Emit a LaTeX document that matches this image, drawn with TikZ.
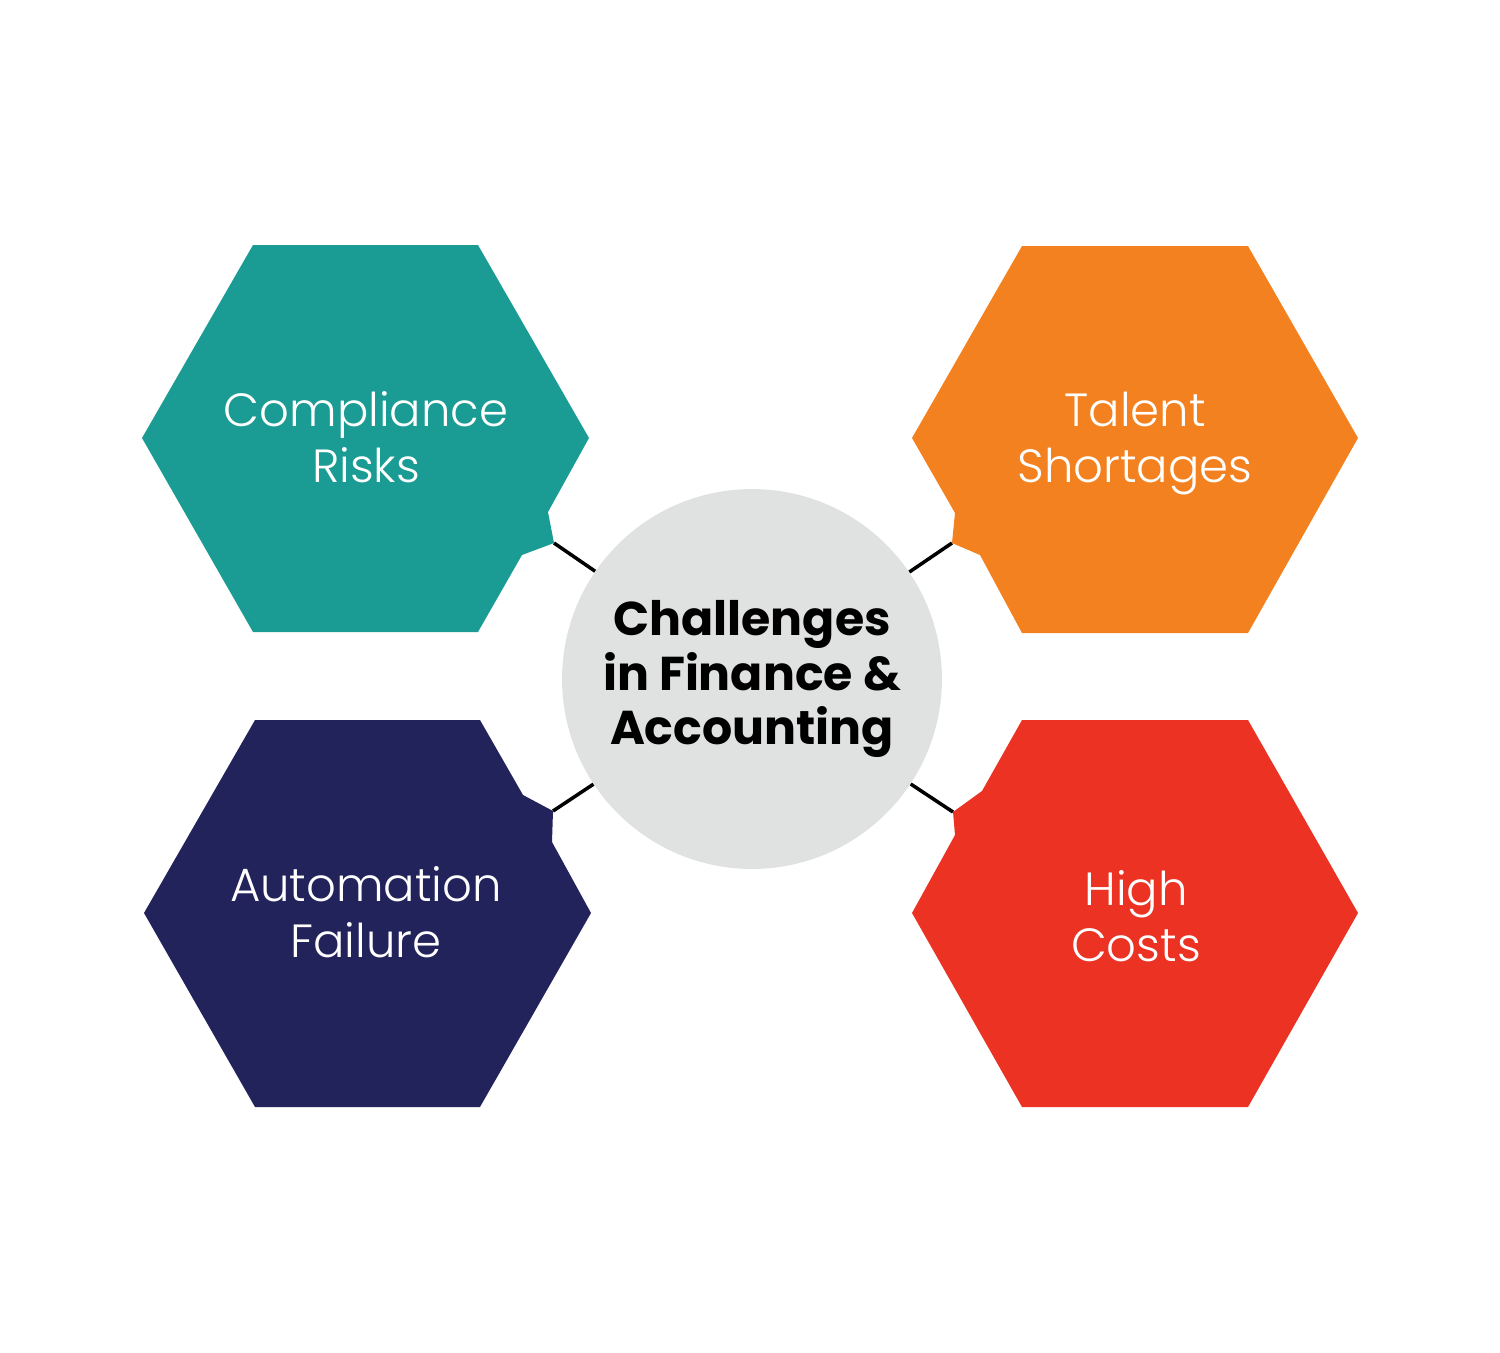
\documentclass[tikz,border=0pt]{standalone}
\usepackage{fontspec}
\setmainfont{Poppins}
\newfontfamily\lightfont{Poppins Light}
\definecolor{cteal}{HTML}{1A9C94}
\definecolor{corange}{HTML}{F48120}
\definecolor{cnavy}{HTML}{23235B}
\definecolor{cred}{HTML}{EB3223}
\definecolor{chub}{HTML}{E0E2E1}
\tikzstyle{hexlabel}=[text=white,align=center,inner sep=0pt,font=\lightfont\fontsize{26.5}{32}\selectfont]
\tikzstyle{hub}=[circle,fill=chub,minimum size=7.6cm,inner sep=0pt,align=center,font=\bfseries\fontsize{27}{31}\selectfont]
\tikzstyle{link}=[draw=black,line width=2pt]

\begin{document}
\begin{tikzpicture}[x=0.02cm, y=-0.02cm]
	\useasboundingbox (0,0) rectangle (1500,1352);
	% centre
	\node[hub] (hub) at (752,679) {Challenges\\in Finance \&\\Accounting};
	% hexagons
	\fill[cteal] (253,245) -- (478,245) -- (589,438) -- (548,512) --
		(554,543) coordinate (t1) -- (522,555) -- (478,632) --
		(253,632) -- (142,438) -- cycle;
	\fill[corange] (1022,246) -- (1248,246) -- (1358,438) -- (1248,633) --
		(1022,633) -- (980,555) -- (952,543) coordinate (t2) --
		(955,513) -- (912,438) -- cycle;
	\fill[cnavy] (255,720) -- (480,720) -- (523,795) -- (553,811) coordinate (t3) --
		(552,842) -- (591,913) -- (480,1107) -- (255,1107) --
		(144,913) -- cycle;
	\fill[cred] (1022,720) -- (1248,720) -- (1358,913) -- (1248,1107) --
		(1022,1107) -- (912,913) -- (955,835) --
		(953,812) coordinate (t4) -- (982,791) -- cycle;
	% labels
	\node[hexlabel] (n1) at (366,443) {Compliance\strut\\Risks\strut};
	\node[hexlabel] (n2) at (1135,443) {Talent\strut\\Shortages\strut};
	\node[hexlabel] (n3) at (366,918) {Automation\strut\\Failure\strut};
	\node[hexlabel] (n4) at (1136,922) {High\strut\\Costs\strut};
	% links
	\draw[link] (t1) -- (hub) (t2) -- (hub) (t3) -- (hub) (t4) -- (hub);
\end{tikzpicture}
\end{document}
